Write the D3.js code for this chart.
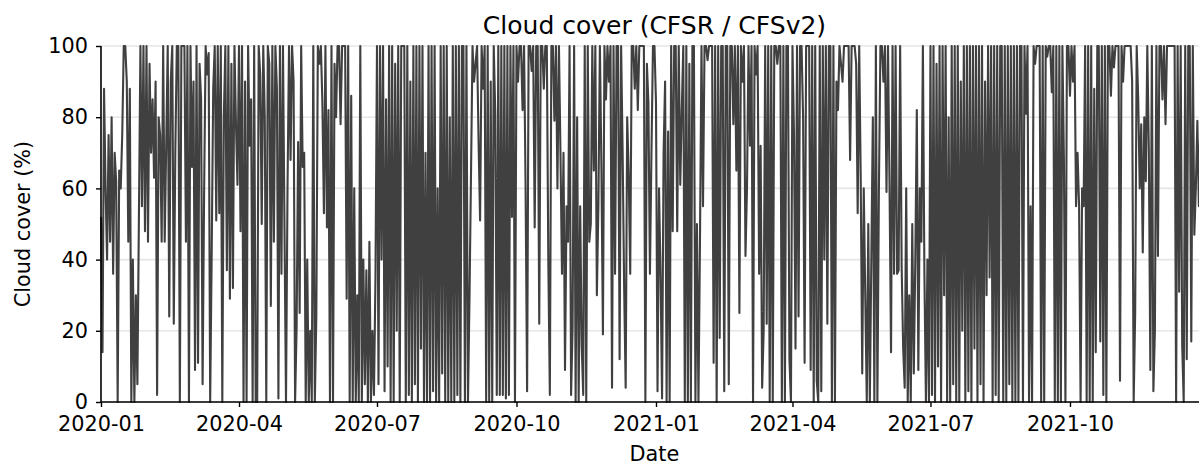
<!DOCTYPE html>
<html>
<head>
<meta charset="utf-8">
<script src="https://cdn.jsdelivr.net/npm/d3@7"></script>
<style>
  html, body { margin: 0; padding: 0; background: #fff; }
  svg { display: block; font-family: "DejaVu Sans", sans-serif; }
</style>
</head>
<body>
<svg id="chart" width="1199" height="465"></svg>
<script>
// Daily cloud cover (%), CFSR / CFSv2, starting 2020-01-01.
const cover2020H1 = [
  52, 14, 88, 60, 40, 75, 45, 80, 36, 70,
  62, 0, 65, 60, 75, 100, 100, 90, 45, 88,
  0, 40, 0, 30, 5, 52, 100, 55, 100, 48,
  100, 45, 95, 70, 85, 63, 90, 2, 80, 75,
  45, 100, 45, 72, 100, 24, 90, 100, 22, 70,
  100, 100, 0, 100, 100, 100, 45, 100, 0, 100,
  66, 90, 9, 100, 11, 95, 85, 5, 59, 100,
  92, 98, 0, 42, 88, 100, 51, 100, 53, 100,
  0, 80, 100, 37, 100, 29, 95, 32, 100, 78,
  61, 100, 48, 100, 0, 90, 0, 100, 72, 85,
  0, 100, 0, 0, 100, 92, 50, 100, 80, 0,
  100, 95, 27, 100, 45, 100, 88, 1, 100, 36,
  100,
  49, 0, 60, 100, 68, 100, 90, 0, 21, 73,
  25, 100, 66, 70, 0, 40, 0, 20, 0, 100,
  0, 24, 100, 95, 100, 84, 53, 100, 49, 82,
  0, 100, 0, 95, 80, 100, 100, 78, 100, 100,
  100, 29, 100, 0, 86, 0, 60, 0, 30, 0,
  100, 0, 40, 5, 37, 0, 45, 0, 20, 2,
  35
];
const cover2020H2 = [
  100, 5, 100, 40, 100, 3, 85, 10, 100, 0,
  100, 0, 95, 20, 100, 0, 100, 100, 100, 0,
  100, 2, 90, 0, 100, 5, 100, 0, 100, 15,
  100, 0, 70, 0, 100, 0, 100, 3, 100, 0,
  60, 0, 100, 8, 100, 0, 100, 0, 80, 0,
  100, 0, 100, 2, 100, 0, 100, 100, 0, 100,
  0,
  29, 64, 100, 90, 95, 100, 73, 51, 100, 88,
  100, 0, 100, 0, 90, 0, 100, 81, 2, 100,
  2, 100, 2, 100, 1, 100, 2, 100, 52, 100,
  0, 100, 90, 100, 100, 82, 100, 60, 3, 100,
  100, 93, 100, 49, 100, 100, 22, 100, 100, 88,
  100, 100, 39, 2, 100, 100, 79, 100, 60, 100,
  70,
  36, 70, 9, 55, 45, 100, 2, 21, 100, 0,
  80, 0, 55, 16, 2, 100, 0, 100, 45, 50,
  100, 65, 100, 30, 55, 100, 66, 19, 100, 85,
  100, 90, 100, 4, 100, 36, 100, 100, 12, 100,
  70, 32, 4, 80, 64, 36, 100, 100, 88, 100,
  82, 100, 100, 100, 100, 0, 95, 84, 36, 70,
  100, 100
];
const cover2021H1 = [
  84, 3, 60, 36, 1, 70, 90, 0, 76, 0,
  100, 48, 100, 100, 48, 100, 61, 82, 100, 0,
  100, 0, 95, 0, 100, 100, 0, 50, 0, 45,
  100, 55, 100, 100, 96, 100, 100, 100, 11, 100,
  0, 100, 18, 100, 100, 3, 100, 100, 5, 100,
  100, 78, 100, 65, 100, 25, 100, 90, 100,
  41, 60, 100, 72, 100, 0, 100, 92, 100, 36,
  72, 4, 20, 100, 22, 100, 0, 100, 0, 100,
  100, 95, 100, 100, 0, 100, 0, 100, 100, 12,
  0, 100, 75, 15, 100, 24, 100, 100, 80, 11,
  100, 100, 100, 9, 100, 0, 100, 6, 0, 100,
  3, 100, 40, 100, 22, 100, 100, 0, 100, 0,
  90,
  82, 100, 95, 90, 100, 100, 100, 100, 68, 100,
  100, 100, 95, 53, 100, 63, 8, 60, 30, 0,
  50, 0, 40, 80, 0, 100, 0, 60, 100, 100,
  90, 100, 59, 100, 61, 14, 100, 36, 100, 36,
  37, 100, 38, 15, 4, 60, 0, 30, 0, 50,
  8, 40, 82, 9, 60, 45, 100, 36, 0, 40,
  0
];
const cover2021H2 = [
  100, 2, 100, 0, 95, 10, 100, 0, 100, 30,
  100, 0, 80, 0, 100, 5, 100, 0, 100, 0,
  90, 20, 100, 0, 100, 3, 100, 0, 100, 15,
  100, 0, 100, 5, 100, 0, 90, 30, 100, 35,
  100, 0, 100, 2, 100, 0, 100, 100, 0, 100,
  0, 100, 5, 100, 0, 100, 0, 100, 0, 100,
  100, 0, 100, 81, 100, 0, 55, 0, 100, 95,
  100, 100, 100, 0, 100, 0, 100, 97, 100, 100,
  87, 100, 0, 100, 0, 100, 0, 100, 68, 0,
  100, 100, 86, 100, 90, 100, 55, 70, 55, 0,
  60, 55, 100, 0, 100, 0, 100, 0, 88, 14,
  100, 100, 17, 100, 2, 100, 0, 100, 100, 86,
  100,
  94, 100, 100, 100, 6, 100, 90, 100, 100, 100,
  100, 100, 90, 0, 25, 100, 85, 60, 78, 42,
  80, 62, 100, 70, 9, 100, 3, 20, 100, 41,
  100, 100, 85, 100, 78, 100, 100, 100, 100, 100,
  100, 0, 100, 31, 100, 16, 0, 100, 12, 100,
  100, 17, 100, 47, 60, 79, 55, 80, 100, 60,
  100, 85, 100
];

const startDate = "2020-01-01";
const endDate = "2021-12-31";
const xTickLabels = ["2020-01", "2020-04", "2020-07", "2020-10", "2021-01", "2021-04", "2021-07", "2021-10"];
const yTicks = [0, 20, 40, 60, 80, 100];

const titleText = "Cloud cover (CFSR / CFSv2)";
const xLabelText = "Date";
const yLabelText = "Cloud cover (%)";

// ---- build the series ----
const parse = d3.utcParse("%Y-%m-%d");
const parseMonth = d3.utcParse("%Y-%m");
const t0 = parse(startDate);
const values = [].concat(cover2020H1, cover2020H2, cover2021H1, cover2021H2);
const series = values.map((v, i) => ({ date: d3.utcDay.offset(t0, i), value: v }));

// ---- layout ----
const svg = d3.select("#chart");
const margin = { left: 101, top: 46, bottom: 402 };
const pxPerDay = 555 / 366;
const xRight = margin.left + d3.utcDay.count(t0, parse(endDate)) * pxPerDay;

const x = d3.scaleUtc().domain([t0, parse(endDate)]).range([margin.left, xRight]);
const y = d3.scaleLinear().domain([0, 100]).range([margin.bottom, margin.top]);

const fontSize = 20.8;

// horizontal grid
svg.append("g")
  .selectAll("line")
  .data(yTicks)
  .join("line")
  .attr("x1", margin.left).attr("x2", xRight)
  .attr("y1", d => y(d)).attr("y2", d => y(d))
  .attr("stroke", "#e6e6e6")
  .attr("stroke-width", 1.6);

// the series
svg.append("path")
  .datum(series)
  .attr("fill", "none")
  .attr("stroke", "#404040")
  .attr("stroke-width", 2.1)
  .attr("stroke-linejoin", "round")
  .attr("d", d3.line().x(d => x(d.date)).y(d => y(d.value)));

// axes
const xAxis = d3.axisBottom(x)
  .tickValues(xTickLabels.map(parseMonth))
  .tickFormat(d3.utcFormat("%Y-%m"))
  .tickSize(5)
  .tickPadding(9);
const gx = svg.append("g")
  .attr("transform", `translate(0,${margin.bottom})`)
  .call(xAxis);
gx.select(".domain").attr("stroke-width", 1.6).attr("d", `M${margin.left},0H${xRight}`);

const yAxis = d3.axisLeft(y)
  .tickValues(yTicks)
  .tickSize(5)
  .tickPadding(8);
const gy = svg.append("g")
  .attr("transform", `translate(${margin.left},0)`)
  .call(yAxis);
gy.select(".domain").attr("stroke-width", 1.6).attr("d", `M0,${margin.bottom}V${margin.top}`);

[gx, gy].forEach(g => {
  g.selectAll(".tick line").attr("stroke", "#000").attr("stroke-width", 1.4);
  g.selectAll(".tick text")
    .attr("fill", "#000")
    .style("font-family", "'DejaVu Sans', sans-serif")
    .style("font-size", fontSize + "px");
});

// labels
const plotCenterX = (margin.left + xRight) / 2;
svg.append("text")
  .attr("x", plotCenterX).attr("y", 34)
  .attr("text-anchor", "middle")
  .style("font-size", "25px")
  .text(titleText);

svg.append("text")
  .attr("x", plotCenterX).attr("y", 461)
  .attr("text-anchor", "middle")
  .style("font-size", fontSize + "px")
  .text(xLabelText);

svg.append("text")
  .attr("transform", `translate(30,${(margin.top + margin.bottom) / 2}) rotate(-90)`)
  .attr("text-anchor", "middle")
  .style("font-size", fontSize + "px")
  .text(yLabelText);
</script>
</body>
</html>
